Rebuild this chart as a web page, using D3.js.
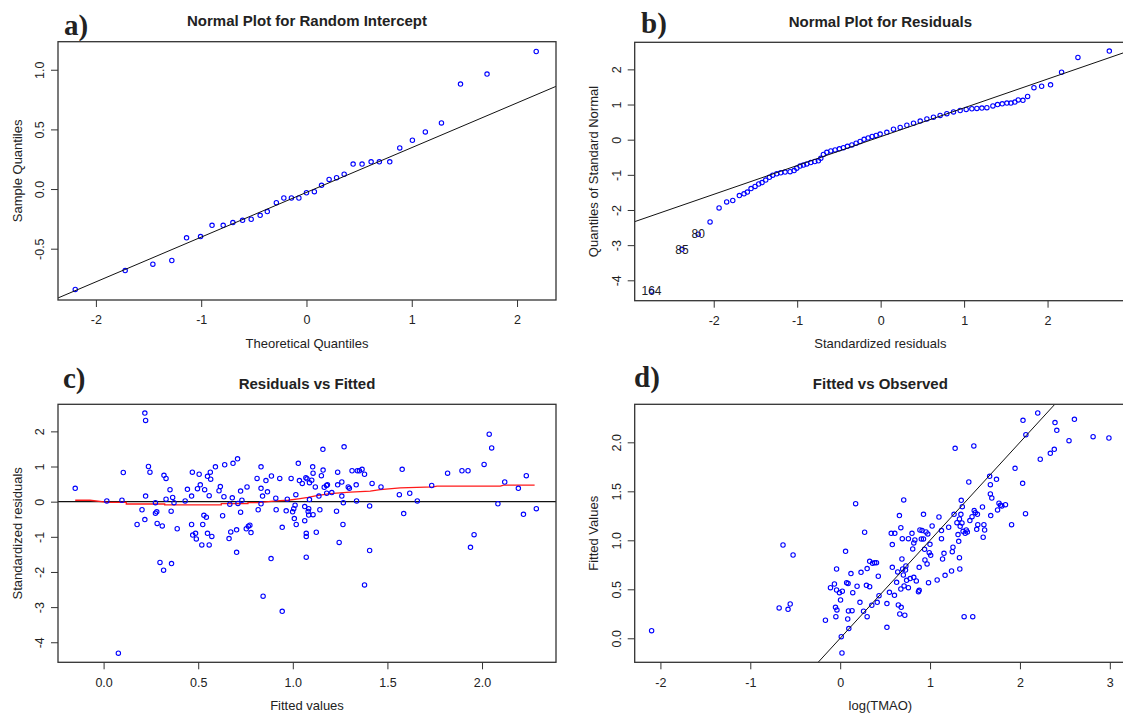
<!DOCTYPE html>
<html>
<head>
<meta charset="utf-8">
<script src="https://cdn.jsdelivr.net/npm/d3@7"></script>
<style>
  body { margin: 0; background: #fff; }
  svg text { font-family: "Liberation Sans", Arial, sans-serif; fill: #222; }
</style>
</head>
<body>
<svg id="chart" width="1123" height="715"></svg>
<script>
// a) normal plot for random intercept
var aTheoretical = [-2.196,-1.722,-1.459,-1.279,-1.139,-1.006,-0.897,-0.791,-0.699,-0.607,-0.525,-0.440,-0.372,-0.286,-0.215,-0.143,-0.072,0,0.075,0.143,0.215,0.286,0.358,0.443,0.528,0.614,0.692,0.791,0.886,1.006,1.129,1.282,1.463,1.715,2.182];
var aSample = [-0.841,-0.683,-0.630,-0.599,-0.409,-0.398,-0.304,-0.304,-0.281,-0.262,-0.253,-0.220,-0.189,-0.114,-0.075,-0.075,-0.075,-0.031,-0.022,0.031,0.081,0.095,0.125,0.209,0.209,0.228,0.228,0.228,0.345,0.409,0.479,0.554,0.880,0.964,1.153];
var aRefLine = [-0.028, 0.375]; // intercept, slope
var aXTicks = [-2, -1, 0, 1, 2];
var aYTicks = [-0.5, 0, 0.5, 1.0];

// b) normal plot for residuals
var bQuant = [-2.746,-2.38,-2.186,-2.044,-1.936,-1.845,-1.772,-1.693,-1.637,-1.597,-1.553,-1.505,-1.461,-1.421,-1.377,-1.333,-1.293,-1.245,-1.197,-1.145,-1.085,-1.037,-1.005,-0.965,-0.925,-0.885,-0.837,-0.789,-0.746,-0.717,-0.686,-0.645,-0.597,-0.546,-0.494,-0.446,-0.398,-0.345,-0.294,-0.246,-0.198,-0.150,-0.102,-0.054,-0.006,0.074,0.154,0.234,0.314,0.394,0.474,0.554,0.633,0.713,0.793,0.873,0.953,1.025,1.093,1.153,1.213,1.273,1.345,1.401,1.457,1.513,1.561,1.609,1.649,1.705,1.761,1.837,1.929,2.036,2.168,2.364,2.740];
var bResid = [-4.31,-3.12,-2.69,-2.34,-1.94,-1.77,-1.73,-1.59,-1.54,-1.49,-1.39,-1.33,-1.26,-1.22,-1.15,-1.07,-1.01,-0.97,-0.94,-0.92,-0.91,-0.88,-0.81,-0.75,-0.72,-0.69,-0.65,-0.62,-0.60,-0.53,-0.42,-0.36,-0.32,-0.29,-0.26,-0.23,-0.19,-0.15,-0.10,-0.05,0.01,0.05,0.09,0.12,0.16,0.21,0.30,0.35,0.41,0.47,0.53,0.59,0.64,0.69,0.74,0.79,0.83,0.86,0.88,0.89,0.90,0.91,0.96,1.00,1.02,1.04,1.04,1.07,1.13,1.12,1.23,1.48,1.52,1.56,1.92,2.34,2.52];
var bRefLine = [0.085, 0.82];
var bIdLabels = ["164", "85", "80"];
var bXTicks = [-2, -1, 0, 1, 2];
var bYTicks = [-4, -3, -2, -1, 0, 1, 2];

// c) residuals vs fitted
var cFitted = [-0.150,0.017,0.097,0.104,0.078,0.177,0.203,0.218,0.222,0.218,0.222,0.237,0.245,0.274,0.274,0.281,0.283,0.298,0.310,0.317,0.319,0.330,0.330,0.351,0.357,0.359,0.365,0.372,0.389,0.431,0.443,0.465,0.465,0.469,0.471,0.486,0.490,0.496,0.505,0.511,0.519,0.524,0.530,0.534,0.543,0.549,0.549,0.558,0.558,0.564,0.566,0.572,0.591,0.610,0.617,0.629,0.636,0.640,0.663,0.667,0.672,0.680,0.684,0.703,0.703,0.708,0.710,0.724,0.724,0.731,0.754,0.758,0.765,0.773,0.779,0.811,0.817,0.832,0.832,0.832,0.840,0.843,0.858,0.866,0.885,0.887,0.910,0.912,0.931,0.944,0.944,0.965,0.971,0.991,0.999,1.005,1.008,1.012,1.016,1.018,1.029,1.035,1.050,1.063,1.063,1.069,1.071,1.071,1.071,1.075,1.081,1.084,1.084,1.088,1.088,1.100,1.105,1.107,1.107,1.119,1.124,1.138,1.143,1.151,1.159,1.160,1.166,1.178,1.183,1.179,1.206,1.231,1.237,1.237,1.245,1.259,1.259,1.265,1.267,1.271,1.293,1.299,1.313,1.335,1.337,1.341,1.352,1.366,1.379,1.379,1.406,1.406,1.419,1.466,1.563,1.578,1.586,1.618,1.658,1.734,1.818,1.894,1.926,1.939,1.958,2.011,2.038,2.051,2.084,2.120,2.192,2.219,2.234,2.287];
var cResid = [0.38,0.02,0.04,0.83,-4.31,-0.65,-0.23,2.52,2.31,-0.51,0.16,1.00,0.84,-0.03,-0.33,-0.29,-0.62,-1.73,-0.69,-1.95,0.75,0.66,0.07,0.34,-0.27,-1.76,0.12,-0.03,-0.77,0.02,0.35,-0.65,0.16,0.84,-0.95,-0.90,-1.06,0.37,0.78,0.48,-1.23,-0.65,-0.39,0.34,-0.44,-0.90,0.72,0.17,-1.23,0.84,0.64,-0.99,0.99,0.31,0.43,-0.40,0.14,1.05,-1.05,-0.07,-0.86,0.11,1.09,-1.44,-0.80,1.22,-0.05,0.30,-0.30,0.04,-0.77,0.42,-0.70,-0.67,-0.88,0.66,-0.23,0.99,0.38,-0.06,0.16,-2.69,0.60,0.28,-1.62,0.73,0.10,-0.23,0.66,-0.73,-3.12,-0.26,0.07,0.66,-0.29,-0.20,-0.48,-0.10,0.20,-0.65,1.09,0.60,0.52,-0.14,-0.54,0.68,-1.58,-0.90,-0.99,0.65,-0.28,-0.20,-0.38,0.54,0.06,0.61,0.99,-0.37,0.81,0.42,-0.87,0.16,-0.23,0.74,1.49,0.90,0.41,0.46,0.48,0.24,0.26,-0.27,0.84,0.48,-1.16,0.16,0.56,-0.65,-0.03,1.56,0.42,0.38,0.88,0.48,0.02,0.88,0.88,0.92,-2.37,0.78,-1.39,-0.12,0.52,0.42,0.20,0.92,-0.34,0.24,0.02,0.46,0.81,0.88,0.88,-1.30,-0.94,1.06,1.92,1.53,-0.06,0.56,0.38,-0.36,0.74,-0.20];
var cSmoothX = [-0.150,-0.072,0.023,0.120,0.120,0.323,0.323,0.622,0.622,0.763,0.763,0.816,0.913,0.975,1.030,1.080,1.127,1.197,1.303,1.409,1.462,1.568,1.744,1.762,2.097,2.114,2.278];
var cSmoothY = [0.04,0.04,-0.02,-0.02,-0.066,-0.066,-0.094,-0.094,-0.057,-0.057,-0.028,-0.028,0.02,0.04,0.08,0.12,0.17,0.23,0.27,0.30,0.34,0.39,0.42,0.44,0.44,0.47,0.47];
var cXTicks = [0, 0.5, 1.0, 1.5, 2.0];
var cYTicks = [-4, -3, -2, -1, 0, 1, 2];

// d) fitted vs observed
var dObserved = [-2.098,-0.679,-0.636,-0.580,-0.556,-0.524,-0.164,-0.108,-0.064,-0.052,-0.048,-0.040,-0.040,-0.036,-0.008,0.004,0.012,0.020,0.024,0.060,0.072,0.084,0.088,0.092,0.096,0.120,0.132,0.140,0.172,0.188,0.220,0.232,0.260,0.272,0.292,0.300,0.300,0.328,0.328,0.352,0.360,0.384,0.404,0.412,0.424,0.432,0.520,0.520,0.548,0.568,0.580,0.580,0.604,0.608,0.628,0.640,0.647,0.659,0.663,0.675,0.675,0.679,0.687,0.691,0.695,0.703,0.707,0.711,0.719,0.727,0.731,0.739,0.759,0.759,0.779,0.799,0.807,0.819,0.819,0.831,0.847,0.871,0.879,0.879,0.887,0.903,0.911,0.927,0.927,0.939,0.943,0.955,0.967,0.975,0.983,0.991,0.999,1.007,1.023,1.079,1.099,1.127,1.127,1.139,1.155,1.167,1.207,1.239,1.247,1.255,1.267,1.279,1.299,1.311,1.319,1.327,1.327,1.331,1.335,1.343,1.347,1.355,1.359,1.367,1.379,1.391,1.403,1.415,1.431,1.443,1.467,1.475,1.487,1.491,1.503,1.519,1.527,1.531,1.583,1.591,1.599,1.607,1.663,1.671,1.671,1.675,1.687,1.739,1.751,1.767,1.783,1.799,1.839,1.907,1.946,2.030,2.034,2.062,2.066,2.198,2.226,2.338,2.382,2.390,2.410,2.546,2.606,2.814,2.990];
var dFitted = [0.078,0.310,0.952,0.296,0.350,0.850,0.184,0.517,0.554,0.316,0.221,0.707,0.493,0.289,0.466,0.391,0.017,-0.150,0.480,0.888,0.568,0.197,0.558,0.279,0.099,0.660,0.282,0.466,1.374,0.531,0.367,0.673,0.276,1.082,0.541,0.711,0.221,0.527,0.786,0.337,0.765,0.772,0.772,0.367,0.633,0.435,0.112,0.354,0.469,1.071,0.724,0.956,0.439,1.071,0.571,0.677,0.340,1.252,0.248,1.129,0.503,0.316,0.809,1.017,0.707,0.646,1.412,0.534,0.235,0.697,0.738,0.592,1.017,0.517,0.609,1.071,0.912,0.973,0.622,1.003,0.585,0.476,0.724,0.490,1.105,1.014,1.099,1.265,1.014,0.908,0.799,1.085,0.759,1.065,0.568,0.874,0.959,0.847,1.146,0.595,1.238,1.017,1.099,0.809,0.867,0.643,1.133,0.687,0.884,0.929,1.265,1.939,1.180,1.058,0.990,1.218,0.823,0.707,1.143,1.265,1.408,1.177,1.343,1.092,0.221,1.071,1.105,1.085,1.595,1.201,1.241,0.221,1.963,1.303,1.282,1.112,1.265,1.160,1.340,1.031,1.160,1.105,1.653,1.568,1.473,1.252,1.432,1.622,1.310,1.378,1.357,1.350,1.364,1.160,1.735,1.582,2.224,1.272,2.078,2.299,1.827,1.888,1.929,2.201,2.122,2.017,2.235,2.058,2.044];
var dRefLine = [0, 1];
var dXTicks = [-2, -1, 0, 1, 2, 3];
var dYTicks = [0, 0.5, 1.0, 1.5, 2.0];

var rLocale = d3.formatLocale({decimal: ".", thousands: ",", grouping: [3], currency: ["", ""], minus: "-"});
var fmtInt = rLocale.format("d");
var fmtOne = rLocale.format(".1f");

var svg = d3.select("#chart");

function toPoints(xs, ys){
	return xs.map(function(v, i){ return [v, ys[i]]; });
}

function drawPanel(p){
	var g = svg.append("g");
	var x = d3.scaleLinear().domain(p.xDomain).range([p.left, p.right]);
	var y = d3.scaleLinear().domain(p.yDomain).range([p.bottom, p.top]);

	g.append("clipPath").attr("id", "clip-" + p.id)
		.append("rect")
			.attr("x", p.left).attr("y", p.top)
			.attr("width", p.right - p.left).attr("height", p.bottom - p.top);

	var xAxis = g.append("g")
		.attr("transform", "translate(0," + p.bottom + ")")
		.call(d3.axisBottom(x).tickValues(p.xTicks).tickFormat(p.xFormat).tickSize(7));
	xAxis.select(".domain").remove();
	xAxis.selectAll("line").attr("stroke", "#333");
	xAxis.selectAll("text")
		.attr("y", 20).attr("dy", "0.35em")
		.style("font-size", "12.5px").style("font-family", "Liberation Sans, Arial, sans-serif").attr("fill", "#222");

	var yAxis = g.append("g")
		.attr("transform", "translate(" + p.left + ",0)")
		.call(d3.axisLeft(y).tickValues(p.yTicks).tickFormat(p.yFormat).tickSize(7));
	yAxis.select(".domain").remove();
	yAxis.selectAll("line").attr("stroke", "#333");
	yAxis.selectAll("text")
		.attr("x", 0).attr("dy", "0.35em")
		.attr("text-anchor", "middle")
		.attr("transform", "translate(-18.5,0) rotate(-90)")
		.style("font-size", "12.5px").style("font-family", "Liberation Sans, Arial, sans-serif").attr("fill", "#222");

	var plot = g.append("g").attr("clip-path", "url(#clip-" + p.id + ")");

	if(p.zeroLine){
		plot.append("line")
			.attr("x1", p.left).attr("x2", p.right)
			.attr("y1", y(0)).attr("y2", y(0))
			.attr("stroke", "#111").attr("stroke-width", 1.2);
	}

	if(p.smooth){
		plot.append("path")
			.datum(p.smooth)
			.attr("d", d3.line().x(function(d){ return x(d[0]); }).y(function(d){ return y(d[1]); }))
			.attr("fill", "none")
			.attr("stroke", "#ff1a1a")
			.attr("stroke-width", 1.3);
	}

	plot.selectAll("circle.pt")
		.data(p.points)
		.enter().append("circle")
			.attr("class", "pt")
			.attr("cx", function(d){ return x(d[0]); })
			.attr("cy", function(d){ return y(d[1]); })
			.attr("r", 2.2)
			.attr("fill", "none")
			.attr("stroke", "#0000ff")
			.attr("stroke-width", 1.1);

	if(p.refLine){
		var x0 = p.xDomain[0], x1 = p.xDomain[1];
		plot.append("line")
			.attr("x1", x(x0)).attr("y1", y(p.refLine[0] + p.refLine[1] * x0))
			.attr("x2", x(x1)).attr("y2", y(p.refLine[0] + p.refLine[1] * x1))
			.attr("stroke", "#111").attr("stroke-width", 1);
	}

	if(p.ids){
		plot.selectAll("text.id")
			.data(p.ids)
			.enter().append("text")
				.attr("class", "id")
				.attr("x", function(d){ return x(d.x); })
				.attr("y", function(d){ return y(d.y); })
				.attr("dy", "0.35em")
				.attr("text-anchor", "middle")
				.style("font-size", "12px")
				.attr("fill", "#222")
				.text(function(d){ return d.label; });
	}

	// box
	g.append("rect")
		.attr("x", p.left).attr("y", p.top)
		.attr("width", p.right - p.left).attr("height", p.bottom - p.top)
		.attr("fill", "none").attr("stroke", "#333").attr("stroke-width", 1.3);

	var cx = (p.left + p.right) / 2, cy = (p.top + p.bottom) / 2;
	g.append("text")
		.attr("x", cx).attr("y", p.top - 21).attr("dy", "0.35em")
		.attr("text-anchor", "middle")
		.style("font-size", "15px").style("font-weight", "bold")
		.attr("fill", "#111")
		.text(p.title);
	g.append("text")
		.attr("x", cx).attr("y", p.bottom + 43).attr("dy", "0.35em")
		.attr("text-anchor", "middle")
		.style("font-size", "13px")
		.text(p.xLabel);
	g.append("text")
		.attr("transform", "translate(" + (p.left - 41) + "," + cy + ") rotate(-90)")
		.attr("dy", "0.35em")
		.attr("text-anchor", "middle")
		.style("font-size", "13px")
		.text(p.yLabel);
	g.append("text")
		.attr("x", p.tagX).attr("y", p.tagY)
		.style("font-family", "Liberation Serif, Times New Roman, serif")
		.style("font-size", "29px").style("font-weight", "bold")
		.attr("fill", "#000")
		.text(p.tag);
}

drawPanel({
	id: "a", tag: "a)", tagX: 64, tagY: 35,
	left: 58, right: 556, top: 41.7, bottom: 300,
	xDomain: [-2.36, 2.37], yDomain: [-0.930, 1.235],
	xTicks: aXTicks, yTicks: aYTicks, xFormat: fmtInt, yFormat: fmtOne,
	points: toPoints(aTheoretical, aSample), refLine: aRefLine,
	title: "Normal Plot for Random Intercept", xLabel: "Theoretical Quantiles", yLabel: "Sample Quantiles"
});

drawPanel({
	id: "b", tag: "b)", tagX: 641, tagY: 33,
	left: 634.7, right: 1126, top: 42.3, bottom: 300.7,
	xDomain: [-2.947, 2.94], yDomain: [-4.58, 2.77],
	xTicks: bXTicks, yTicks: bYTicks, xFormat: fmtInt, yFormat: fmtInt,
	points: toPoints(bQuant, bResid), refLine: bRefLine,
	ids: bIdLabels.map(function(l, i){ return {label: l, x: bQuant[i], y: bResid[i]}; }),
	title: "Normal Plot for Residuals", xLabel: "Standardized residuals", yLabel: "Quantiles of Standard Normal"
});

drawPanel({
	id: "c", tag: "c)", tagX: 63, tagY: 388,
	left: 58, right: 556, top: 404.3, bottom: 662.3,
	xDomain: [-0.241, 2.391], yDomain: [-4.57, 2.77],
	xTicks: cXTicks, yTicks: cYTicks, xFormat: fmtOne, yFormat: fmtInt,
	points: toPoints(cFitted, cResid), zeroLine: true, smooth: toPoints(cSmoothX, cSmoothY),
	title: "Residuals vs Fitted", xLabel: "Fitted values", yLabel: "Standardized residuals"
});

drawPanel({
	id: "d", tag: "d)", tagX: 634, tagY: 387,
	left: 634.7, right: 1126, top: 404.3, bottom: 662.3,
	xDomain: [-2.286, 3.18], yDomain: [-0.245, 2.388],
	xTicks: dXTicks, yTicks: dYTicks, xFormat: fmtInt, yFormat: fmtOne,
	points: toPoints(dObserved, dFitted), refLine: dRefLine,
	title: "Fitted vs Observed", xLabel: "log(TMAO)", yLabel: "Fitted Values"
});
</script>
</body>
</html>
